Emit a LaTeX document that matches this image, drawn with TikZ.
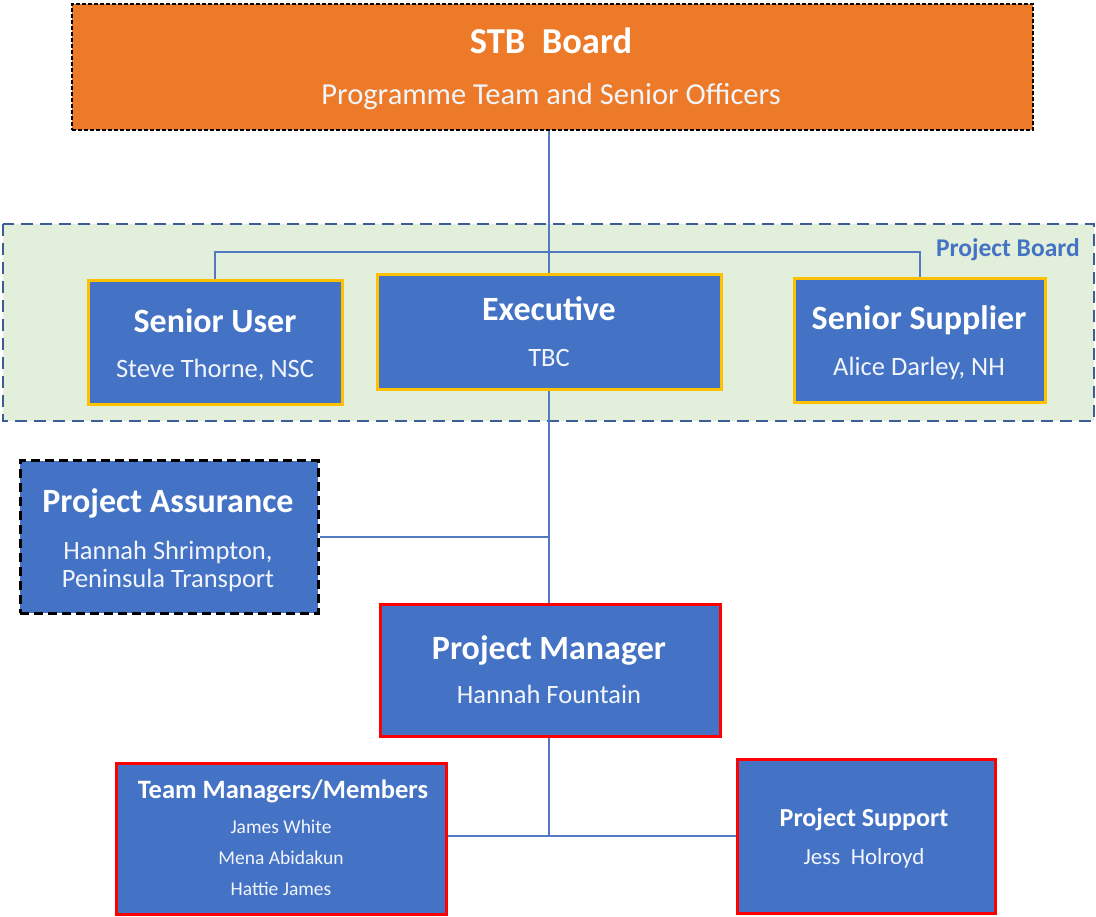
\documentclass[tikz,border=0pt]{standalone}
\usepackage{fontspec}
\setmainfont{Carlito}
\definecolor{boxblue}{HTML}{4472C4}
\definecolor{stborange}{HTML}{EC7A28}
\definecolor{boardgreen}{HTML}{E2EFDA}
\definecolor{boardedge}{HTML}{3D5D96}
\definecolor{gold}{HTML}{FFC000}
\definecolor{linkblue}{HTML}{5479C2}
\tikzset{
  box/.style={rectangle, fill=boxblue, inner sep=0pt},
  goldbox/.style={box, draw=gold, line width=3pt},
  redbox/.style={box, draw=red, line width=3pt},
  ttl/.style={text=white, inner sep=0pt, anchor=base, font=\bfseries\fontsize{34}{40}\selectfont},
  sub/.style={text=white!93!boxblue, inner sep=0pt, anchor=base, font=\fontsize{26.5}{32}\selectfont},
  conn/.style={draw=linkblue, line width=2pt},
}
\begin{document}
\begin{tikzpicture}[x=1pt,y=-1pt]
\useasboundingbox (0,0) rectangle (1096,917);
\clip (0,0) rectangle (1096,917);

% Project Board region
\path[fill=boardgreen, draw=boardedge, line width=2.5pt, dash pattern=on 12pt off 7pt]
  (3,224) rectangle (1094,421);
\node[text=boxblue, inner sep=0pt, anchor=base east, font=\bfseries\fontsize{25.5}{30}\selectfont]
  (pbl) at (1080,257) {Project Board};

% boxes
\node[box, fill=stborange, draw=black, line width=2.5pt, dash pattern=on 4pt off 2pt,
  minimum width=961pt, minimum height=126pt] (stb) at (552.5,67) {};
\node[goldbox, minimum width=254pt, minimum height=124pt] (su) at (215,343) {};
\node[goldbox, minimum width=344pt, minimum height=115pt] (exe) at (549,332.5) {};
\node[goldbox, minimum width=251pt, minimum height=124pt] (ss) at (919.5,341) {};
\node[box, draw=black, line width=3pt, dash pattern=on 9pt off 5pt,
  minimum width=298pt, minimum height=152pt] (pa) at (169,537) {};
\node[redbox, minimum width=330pt, minimum height=151pt] (tm) at (281,838.5) {};
\node[redbox, minimum width=258pt, minimum height=154pt] (ps) at (866,836) {};
\node[redbox, minimum width=340pt, minimum height=132pt] (pm) at (550,670) {};

% connectors
\coordinate (bus) at (549,252);
\draw[conn] (exe.north |- stb.south) -- (exe.north);
\draw[conn] (su.north) |- (bus) -| (ss.north);
\draw[conn] (exe.south) -- (exe.south |- pm.north);
\coordinate (pajoin) at (549,537);
\draw[conn] (pa.east) -- (pajoin);
\coordinate (split) at (549,836);
\draw[conn] (pm.south -| split) -- (split);
\draw[conn] (tm.east |- split) -- (split) -- (ps.west |- split);

% texts
\node[ttl, font=\bfseries\fontsize{36.5}{42}\selectfont] (stbT) at (551,54) {STB\ \ Board};
\node[sub, font=\fontsize{30.5}{36}\selectfont] (stbS) at (551,105) {Programme Team and Senior Officers};

\node[ttl] (suT) at (215,333) {Senior User};
\node[sub] (suS) at (215,378) {Steve Thorne,\ NSC};
\node[ttl] (exeT) at (549,321) {Executive};
\node[sub] (exeS) at (549,367) {TBC};
\node[ttl] (ssT) at (919,330) {Senior Supplier};
\node[sub] (ssS) at (919,376) {Alice Darley, NH};

\node[ttl] (paT) at (168,512) {Project Assurance};
\node[sub] (paS1) at (168,559) {Hannah Shrimpton,};
\node[sub] (paS2) at (168,587) {Peninsula Transport};

\node[ttl] (pmT) at (549,659) {Project Manager};
\node[sub] (pmS) at (549,703) {Hannah Fountain};

\node[ttl, font=\bfseries\fontsize{26.5}{32}\selectfont] (tmT) at (283,798) {Team Managers/Members};
\node[sub, font=\fontsize{19.5}{23}\selectfont] (tm1) at (281,833) {James White};
\node[sub, font=\fontsize{19.5}{23}\selectfont] (tm2) at (281,864) {Mena Abidakun};
\node[sub, font=\fontsize{19.5}{23}\selectfont] (tm3) at (281,895) {Hattie James};

\node[ttl, font=\bfseries\fontsize{26}{31}\selectfont] (psT) at (864,826) {Project Support};
\node[sub, font=\fontsize{23}{28}\selectfont] (psS) at (864,864) {Jess\ \ Holroyd};
\end{tikzpicture}
\end{document}
